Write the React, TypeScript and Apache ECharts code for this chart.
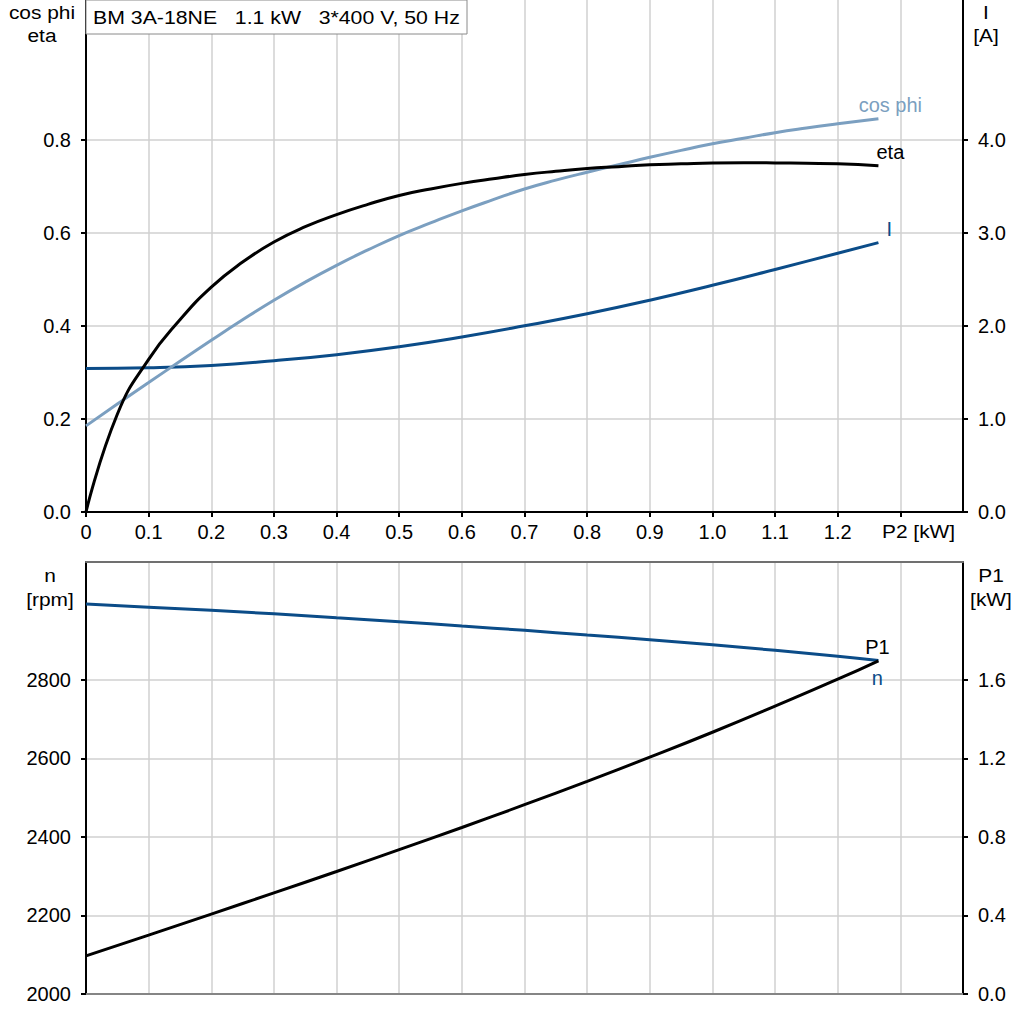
import React, { useEffect, useRef } from "react";
import * as echarts from "echarts";

// ---- data ----
const p2Fine = [0, 0.05, 0.1, 0.15, 0.2, 0.25, 0.3, 0.35, 0.4, 0.45, 0.5, 0.55, 0.6, 0.65, 0.7, 0.75, 0.8, 0.85, 0.9, 0.95, 1.0, 1.05, 1.1, 1.15, 1.2, 1.265];
const eta = [0, 0.21, 0.328, 0.413, 0.483, 0.537, 0.58, 0.613, 0.639, 0.661, 0.68, 0.694, 0.706, 0.716, 0.725, 0.732, 0.738, 0.742, 0.746, 0.748, 0.75, 0.7505, 0.75, 0.749, 0.748, 0.744];
const cosPhi = [0.185, 0.232, 0.278, 0.324, 0.369, 0.413, 0.455, 0.494, 0.53, 0.563, 0.594, 0.621, 0.647, 0.671, 0.694, 0.713, 0.73, 0.746, 0.762, 0.777, 0.791, 0.803, 0.815, 0.825, 0.834, 0.845];

const p2Coarse = [0, 0.1, 0.2, 0.3, 0.4, 0.5, 0.6, 0.7, 0.8, 0.9, 1.0, 1.1, 1.2, 1.265];
const current = [1.542, 1.55, 1.575, 1.625, 1.69, 1.775, 1.88, 2.0, 2.13, 2.275, 2.435, 2.605, 2.78, 2.894];
const speed = [2993, 2985, 2977, 2968, 2958, 2948, 2937, 2926, 2914, 2902, 2889, 2875, 2860, 2849];
const p1 = [0.194, 0.3, 0.407, 0.515, 0.624, 0.735, 0.848, 0.964, 1.083, 1.206, 1.333, 1.466, 1.603, 1.697];

const xTickLabels = [0, 0.1, 0.2, 0.3, 0.4, 0.5, 0.6, 0.7, 0.8, 0.9, 1.0, 1.1, 1.2];
const xTickMarks = [0, 0.1, 0.2, 0.3, 0.4, 0.5, 0.6, 0.7, 0.8, 0.9, 1.0, 1.1, 1.2, 1.3];
const etaTicks = [0, 0.2, 0.4, 0.6, 0.8];
const currentTicks = [0, 1, 2, 3, 4];
const speedTicks = [2000, 2200, 2400, 2600, 2800];
const p1Ticks = [0, 0.4, 0.8, 1.2, 1.6];

const titleText = "BM 3A-18NE   1.1 kW   3*400 V, 50 Hz";
const xAxisTitle = "P2 [kW]";

const FONT = "'Liberation Sans', Arial, sans-serif";
const FS = 20;
const GFS = 19;
const SX = 1.1;
const GRID_COLOR = "#d0d0d0";
const LIGHT_BLUE = "#7b9fc0";
const DARK_BLUE = "#0b4c88";

function pairs(xs: number[], ys: number[], name: string, color: string, pos: number[]) {
  return ys.map((y, i) => {
    if (i === ys.length - 1) {
      return {
        value: [xs[i], y],
        label: {
          show: true,
          formatter: name,
          position: pos,
          align: "center",
          verticalAlign: "middle",
          color,
          fontSize: FS,
          fontFamily: FONT,
        },
      };
    }
    return { value: [xs[i], y] };
  });
}

function lineSeries(xi: number, yi: number, xs: number[], ys: number[], name: string, color: string, pos: number[]) {
  return {
    type: "line",
    name,
    xAxisIndex: xi,
    yAxisIndex: yi,
    data: pairs(xs, ys, name, color, pos),
    smooth: 0.5,
    showSymbol: true,
    symbol: "circle",
    symbolSize: 0.1,
    itemStyle: { color: "rgba(0,0,0,0)" },
    lineStyle: { color, width: 3 },
    label: { show: false },
    emphasis: { disabled: true },
    silent: true,
    z: 5,
  };
}

const labelStyle = { color: "#000", fontSize: FS, fontFamily: FONT };
const blackAxisLine = { show: true, onZero: false, lineStyle: { color: "#000", width: 2 } };
const tickStyle = { color: "#000", width: 2 };
const splitStyle = { show: true, lineStyle: { color: GRID_COLOR, width: 1.5 } };

function gtext(x: number, y: number, text: string, align: string, vAlign: string, lineHeight?: number) {
  return {
    type: "text",
    z: 101,
    x,
    y,
    scaleX: SX,
    style: {
      text,
      fill: "#000",
      font: `${GFS}px ${FONT}`,
      align,
      verticalAlign: vAlign,
      lineHeight: lineHeight || 22,
    },
  };
}

export default function App() {
  const ref = useRef<HTMLDivElement>(null);
  useEffect(() => {
    if (!ref.current) return;
    const chart = echarts.init(ref.current, undefined, { renderer: "svg" });
    const option: any = {
      animation: false,
      backgroundColor: "#fff",
      grid: [
        { left: 86, top: 0, width: 877, height: 512 },
        { left: 86, top: 562, width: 877, height: 432 },
      ],
      xAxis: [
        {
          gridIndex: 0,
          type: "value",
          min: 0,
          max: 1.4,
          interval: 0.1,
          axisLine: blackAxisLine,
          axisTick: { show: true, length: 5, lineStyle: tickStyle, customValues: xTickMarks },
          axisLabel: {
            ...labelStyle,
            margin: 10,
            customValues: xTickLabels,
            formatter: (v: number) => (v === 0 ? "0" : v.toFixed(1)),
          },
          splitLine: splitStyle,
        },
        {
          gridIndex: 1,
          type: "value",
          min: 0,
          max: 1.4,
          interval: 0.1,
          axisLine: { show: true, onZero: false, lineStyle: { color: "#858585", width: 2 } },
          axisTick: { show: false },
          axisLabel: { show: false },
          splitLine: splitStyle,
        },
        {
          gridIndex: 1,
          type: "value",
          position: "top",
          min: 0,
          max: 1.4,
          interval: 0.1,
          axisLine: { show: true, onZero: false, lineStyle: { color: "#707070", width: 2 } },
          axisTick: { show: false },
          axisLabel: { show: false },
          splitLine: { show: false },
        },
      ],
      yAxis: [
        {
          gridIndex: 0,
          type: "value",
          position: "left",
          min: 0,
          max: 1.1,
          interval: 0.1,
          axisLine: blackAxisLine,
          axisTick: { show: true, length: 5, lineStyle: tickStyle, customValues: etaTicks },
          axisLabel: { ...labelStyle, margin: 15, customValues: etaTicks, formatter: (v: number) => v.toFixed(1) },
          splitLine: splitStyle,
        },
        {
          gridIndex: 0,
          type: "value",
          position: "right",
          min: 0,
          max: 5.5,
          interval: 0.5,
          axisLine: blackAxisLine,
          axisTick: { show: true, length: 5, lineStyle: tickStyle, customValues: currentTicks },
          axisLabel: { ...labelStyle, margin: 15, customValues: currentTicks, formatter: (v: number) => v.toFixed(1) },
          splitLine: { show: false },
        },
        {
          gridIndex: 1,
          type: "value",
          position: "left",
          min: 2000,
          max: 3100,
          interval: 100,
          axisLine: blackAxisLine,
          axisTick: { show: true, length: 5, lineStyle: tickStyle, customValues: speedTicks },
          axisLabel: { ...labelStyle, margin: 15, customValues: speedTicks, formatter: (v: number) => String(v) },
          splitLine: splitStyle,
        },
        {
          gridIndex: 1,
          type: "value",
          position: "right",
          min: 0,
          max: 2.2,
          interval: 0.2,
          axisLine: blackAxisLine,
          axisTick: { show: true, length: 5, lineStyle: tickStyle, customValues: p1Ticks },
          axisLabel: { ...labelStyle, margin: 15, customValues: p1Ticks, formatter: (v: number) => v.toFixed(1) },
          splitLine: { show: false },
        },
      ],
      series: [
        lineSeries(0, 1, p2Coarse, current, "I", DARK_BLUE, [11, -14]),
        lineSeries(0, 0, p2Fine, cosPhi, "cos phi", LIGHT_BLUE, [12, -14]),
        lineSeries(0, 0, p2Fine, eta, "eta", "#000", [12, -14]),
        lineSeries(1, 2, p2Coarse, speed, "n", DARK_BLUE, [-1, 17]),
        lineSeries(1, 3, p2Coarse, p1, "P1", "#000", [-1, -14]),
      ],
      graphic: [
        {
          type: "rect",
          z: 100,
          shape: { x: 86, y: 0, width: 381, height: 34 },
          style: { fill: "#fff", stroke: "#8a8a8a", lineWidth: 1 },
        },
        { ...gtext(93, 17, titleText, "left", "middle"), scaleX: 1.12 },
        gtext(42, 1, "cos phi\neta", "center", "top", 23),
        gtext(986, 1, "I\n[A]", "center", "top", 23),
        gtext(50, 563, "n\n[rpm]", "center", "top", 24),
        gtext(991, 563, "P1\n[kW]", "center", "top", 24),
        gtext(882, 531, xAxisTitle, "left", "middle"),
      ],
    };
    chart.setOption(option);
    return () => chart.dispose();
  }, []);
  return <div ref={ref} style={{ position: "absolute", left: 0, top: 0, width: 1024, height: 1024 }} />;
}
